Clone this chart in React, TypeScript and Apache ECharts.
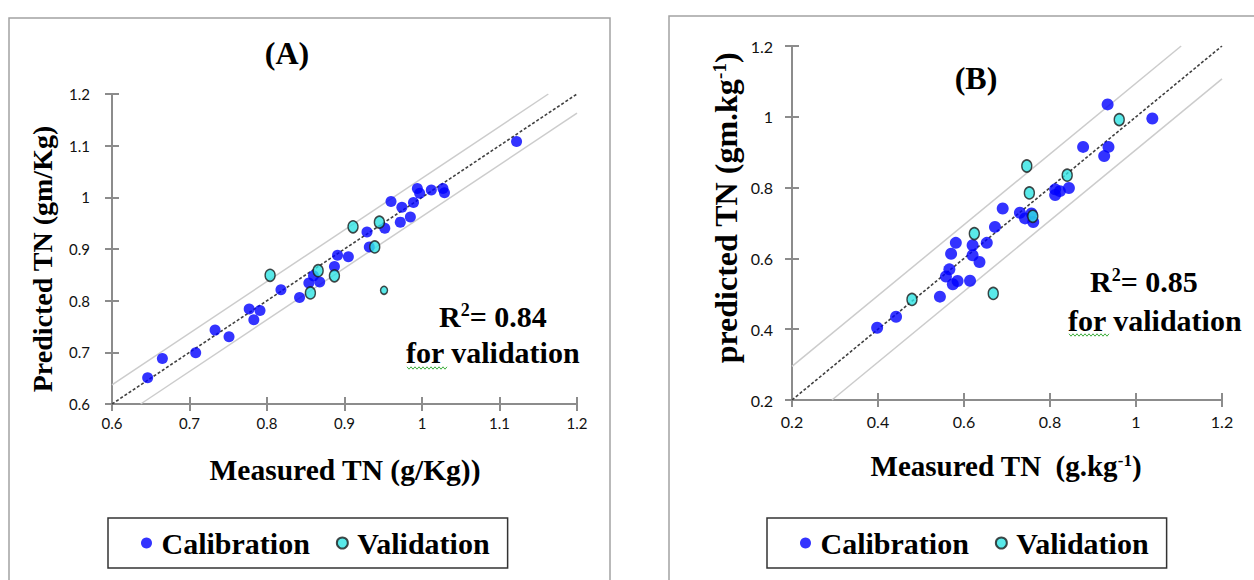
import React, { useEffect, useRef } from "react";
import * as echarts from "echarts";

// ---------- data ----------
const legendNames = ["Calibration", "Validation"];

const calibA: [number, number][] = [
  [0.646, 0.651], [0.665, 0.688], [0.708, 0.699], [0.733, 0.743], [0.751, 0.73],
  [0.777, 0.784], [0.783, 0.763], [0.791, 0.781], [0.818, 0.821], [0.842, 0.806],
  [0.854, 0.834], [0.86, 0.848], [0.868, 0.836], [0.887, 0.866], [0.891, 0.888],
  [0.905, 0.885], [0.929, 0.933], [0.932, 0.904], [0.952, 0.94], [0.96, 0.992],
  [0.972, 0.952], [0.974, 0.981], [0.985, 0.962], [0.989, 0.99], [0.994, 1.017],
  [0.997, 1.008], [1.012, 1.014], [1.027, 1.017], [1.029, 1.009], [1.122, 1.108],
];
const validA: [number, number][] = [
  [0.804, 0.849], [0.856, 0.815], [0.866, 0.858], [0.887, 0.848],
  [0.911, 0.943], [0.939, 0.904], [0.945, 0.952], [0.951, 0.82],
];
const calibB: [number, number][] = [
  [0.398, 0.404], [0.442, 0.435], [0.544, 0.492], [0.558, 0.549], [0.566, 0.569],
  [0.57, 0.613], [0.581, 0.644], [0.574, 0.527], [0.585, 0.536], [0.614, 0.537],
  [0.62, 0.637], [0.62, 0.609], [0.636, 0.59], [0.653, 0.644], [0.672, 0.689],
  [0.69, 0.741], [0.73, 0.729], [0.742, 0.713], [0.757, 0.727], [0.761, 0.703],
  [0.812, 0.795], [0.823, 0.79], [0.844, 0.799], [0.812, 0.779], [0.877, 0.915],
  [0.926, 0.889], [0.936, 0.915], [0.934, 1.035], [1.038, 0.995],
];
const validB: [number, number][] = [
  [0.479, 0.484], [0.624, 0.67], [0.668, 0.501], [0.746, 0.861],
  [0.752, 0.785], [0.76, 0.719], [0.84, 0.835], [0.961, 0.992],
];

const oneToOneA: [number, number][] = [[0.6, 0.6], [1.2, 1.2]];
const upperA: [number, number][] = [[0.6, 0.637], [1.163, 1.2]];
const lowerA: [number, number][] = [[0.637, 0.6], [1.2, 1.163]];
const oneToOneB: [number, number][] = [[0.2, 0.2], [1.2, 1.2]];
const upperB: [number, number][] = [[0.2, 0.295], [1.105, 1.2]];
const lowerB: [number, number][] = [[0.293, 0.2], [1.2, 1.107]];

const rangeA = { min: 0.6, max: 1.2, interval: 0.1 };
const rangeB = { min: 0.2, max: 1.2, interval: 0.2 };

const panelLabels = ["(A)", "(B)"];
const r2Texts = ["0.84", "0.85"];

// ---------- styles ----------
const SERIF = '"Liberation Serif", "Times New Roman", serif';
const SANS = 'Lato, "Noto Sans", sans-serif';
const AX = "#8c8c8c";
const BLUE = "#0000ff";
const CYAN = "#2fe3e3";

function axes(dim: "x" | "y", gridIndex: number, r: any, margin: number, fontSize: number) {
  const pos = dim === "x" ? "bottom" : "left";
  const main: any = {
    type: "value", gridIndex, position: pos, offset: 0,
    min: r.min, max: r.max, interval: r.interval,
    axisLine: { show: true, onZero: false, lineStyle: { color: AX, width: 2 } },
    axisTick: { show: true, inside: false, length: 7, lineStyle: { color: AX, width: 2 } },
    axisLabel: { margin, fontSize, color: "#111", fontFamily: SANS },
    splitLine: { show: false },
  };
  const dup: any = {
    ...main,
    axisLine: { show: false, onZero: false },
    axisLabel: { show: false },
    axisTick: { show: true, inside: true, length: 7, lineStyle: { color: AX, width: 2 } },
  };
  return [main, dup];
}

function lineSeries(data: any, xi: number, color: string, dashed: boolean) {
  return {
    type: "line", xAxisIndex: xi, yAxisIndex: xi, data, symbol: "none", silent: true, z: 1,
    lineStyle: { color, width: dashed ? 1.6 : 1.5, type: dashed ? [3, 2] : "solid" },
  };
}

function squiggle(x0: number, x1: number, y: number) {
  const pts: number[][] = [];
  let up = true;
  for (let x = x0; x <= x1; x += 2) {
    pts.push([x, y + (up ? -1.2 : 1.2)]);
    up = !up;
  }
  return { type: "polyline", shape: { points: pts }, style: { stroke: "#3cae3c", lineWidth: 1, fill: "none" }, silent: true };
}

function bigText(x: number, y: number, text: string, size: number, extra: any = {}) {
  return {
    type: "text", x, y, ...extra,
    style: {
      text, fill: "#000", fontSize: size, fontWeight: "bold", fontFamily: SERIF,
      align: extra.align || "center", verticalAlign: "middle",
    },
  };
}

function richText(x: number, y: number, parts: string, size: number, align: string, rotation = 0) {
  return {
    type: "text", x, y, rotation,
    style: {
      text: parts, align, verticalAlign: "middle",
      fontSize: size, fontWeight: "bold", fontFamily: SERIF, fill: "#000",
      rich: {
        t: { fontSize: size, fontWeight: "bold", fontFamily: SERIF, fill: "#000" },
        s: { fontSize: Math.round(size * 0.6), fontWeight: "bold", fontFamily: SERIF, fill: "#000", verticalAlign: "top" },
      },
    },
  };
}

function legend(left: number, padLeft: number) {
  return {
    data: legendNames, left, top: 518, orient: "horizontal",
    padding: [10, 18, 10, padLeft], itemGap: 26, itemWidth: 20, itemHeight: 11,
    borderColor: "#333", borderWidth: 1.5, backgroundColor: "#fff",
    selectedMode: false,
    textStyle: { fontSize: 30, fontWeight: "bold", fontFamily: SERIF, color: "#000", lineHeight: 30 },
  };
}

export default function App() {
  const ref = useRef<HTMLDivElement>(null);
  useEffect(() => {
    if (!ref.current) return;
    const chart = echarts.init(ref.current, undefined, { renderer: "svg" });
    const [xA, xAd] = axes("x", 0, rangeA, 11, 15);
    const [yA, yAd] = axes("y", 0, rangeA, 22, 15);
    const [xB, xBd] = axes("x", 1, rangeB, 13, 16);
    const [yB, yBd] = axes("y", 1, rangeB, 19, 16);

    const calibStyle = { color: BLUE };
    const validStyle = { color: CYAN, borderColor: "#1a1a1a", borderWidth: 1.5 };

    chart.setOption({
      animation: false,
      backgroundColor: "#fff",
      grid: [
        { left: 112, top: 94, width: 465, height: 310 },
        { left: 792, top: 46, width: 430, height: 354 },
      ],
      xAxis: [xA, xAd, xB, xBd],
      yAxis: [yA, yAd, yB, yBd],
      legend: [legend(108, 33), legend(767, 33)],
      series: [
        lineSeries(upperA, 0, "#cccccc", false),
        lineSeries(lowerA, 0, "#cccccc", false),
        lineSeries(oneToOneA, 0, "#404040", true),
        {
          name: legendNames[0], type: "scatter", xAxisIndex: 0, yAxisIndex: 0, data: calibA,
          symbol: "circle", symbolSize: 11, itemStyle: calibStyle, z: 3,
        },
        {
          name: legendNames[1], type: "scatter", xAxisIndex: 0, yAxisIndex: 0, data: validA,
          symbol: "circle",
          symbolSize: (_v: any, p: any) => (p.dataIndex === validA.length - 1 ? [7, 8] : [10, 12]),
          itemStyle: validStyle, z: 4,
        },
        lineSeries(upperB, 2, "#cccccc", false),
        lineSeries(lowerB, 2, "#cccccc", false),
        lineSeries(oneToOneB, 2, "#404040", true),
        {
          name: legendNames[0], type: "scatter", xAxisIndex: 2, yAxisIndex: 2, data: calibB,
          symbol: "circle", symbolSize: 12, itemStyle: calibStyle, z: 3,
        },
        {
          name: legendNames[1], type: "scatter", xAxisIndex: 2, yAxisIndex: 2, data: validB,
          symbol: "circle", symbolSize: [10, 12], itemStyle: validStyle, z: 4,
        },
      ],
      graphic: [
        { type: "rect", shape: { x: 9, y: 18, width: 601, height: 620 }, style: { fill: "none", stroke: "#a3a3a3", lineWidth: 1.5 }, silent: true, z: -1 },
        { type: "rect", shape: { x: 669, y: 16, width: 700, height: 620 }, style: { fill: "none", stroke: "#a3a3a3", lineWidth: 1.5 }, silent: true, z: -1 },
        bigText(287, 53, panelLabels[0], 32),
        bigText(976, 78, panelLabels[1], 32),
        richText(439, 316, `{t|R}{s|2}{t|= ${r2Texts[0]}}`, 30, "left"),
        bigText(406, 352, "for validation", 30, { align: "left" }),
        squiggle(407, 447, 368),
        richText(1090, 281, `{t|R}{s|2}{t|= ${r2Texts[1]}}`, 30, "left"),
        bigText(1068, 320, "for validation", 30, { align: "left" }),
        squiggle(1069, 1109, 335),
        bigText(345, 470, "Measured TN (g/Kg))", 29.5),
        bigText(42, 259, "Predicted TN (gm/Kg)", 28),
        richText(1006, 466, "{t|Measured TN  (g.kg}{s|-1}{t|)}", 29, "center"),
        richText(726, 208, "{t|predicted TN (gm.kg}{s|-1}{t|)}", 32, "center", Math.PI / 2),
      ].map((g: any, i: number) => (i === 11 ? { ...g, rotation: Math.PI / 2 } : g)),
    });
    return () => chart.dispose();
  }, []);
  return <div ref={ref} style={{ position: "absolute", left: 0, top: 0, width: 1254, height: 580 }} />;
}
